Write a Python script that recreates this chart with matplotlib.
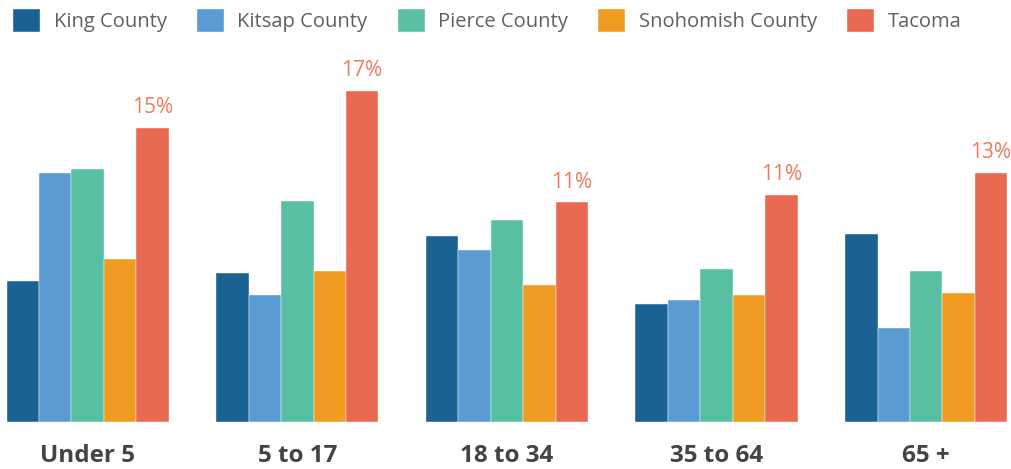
import numpy as np
import matplotlib.pyplot as plt

plt.rcParams["font.family"] = ["Open Sans", "DejaVu Sans"]

# Data
age_groups = ["Under 5", "5 to 17", "18 to 34", "35 to 64", "65 +"]
series_names = ["King County", "Kitsap County", "Pierce County", "Snohomish County", "Tacoma"]
king = [7.2, 7.6, 9.5, 6.0, 9.6]
kitsap = [12.7, 6.5, 8.8, 6.2, 4.8]
pierce = [12.9, 11.3, 10.3, 7.8, 7.7]
snohomish = [8.3, 7.7, 7.0, 6.5, 6.6]
tacoma = [15.0, 16.9, 11.2, 11.6, 12.7]
tacoma_labels = ["15%", "17%", "11%", "11%", "13%"]

colors = ["#1a6293", "#5b9bd3", "#58c0a2", "#f09c22", "#ea6a51"]

fig = plt.figure(figsize=(10.11, 4.69), dpi=100)
ax = fig.add_axes([0, 47 / 469, 1, 362 / 469])

x = np.arange(len(age_groups))
width = 0.1546
all_series = [king, kitsap, pierce, snohomish, tacoma]
handles = []
for k, (name, vals) in enumerate(zip(series_names, all_series)):
    b = ax.bar(x + (k - 2) * width, vals, width, color=colors[k], label=name,
               edgecolor="white", linewidth=0.3)
    handles.append(b)

# value labels on Tacoma bars
for i, v in enumerate(tacoma):
    ax.text(x[i] + 2 * width, v + 0.5, tacoma_labels[i], ha="center", va="bottom",
            fontsize=15, color="#ef7a5f")

ax.set_xlim(-0.4184, 4.405)
ax.set_ylim(0, 18.47)
ax.set_xticks(x)
ax.set_xticklabels(age_groups, fontsize=17.5, fontweight="bold", color="#444444")
ax.tick_params(axis="x", length=0, pad=16)
ax.set_yticks([])
for s in ax.spines.values():
    s.set_visible(False)

fig.legend(handles=handles, labels=series_names, loc="upper left",
           bbox_to_anchor=(0.004, 1.0), ncol=5, frameon=False, fontsize=14.5,
           labelcolor="#606060", handlelength=1.34, handleheight=1.38,
           handletextpad=0.67, columnspacing=1.5, borderaxespad=0.0,
           borderpad=0.45)

fig.savefig("out.png", dpi=100)
